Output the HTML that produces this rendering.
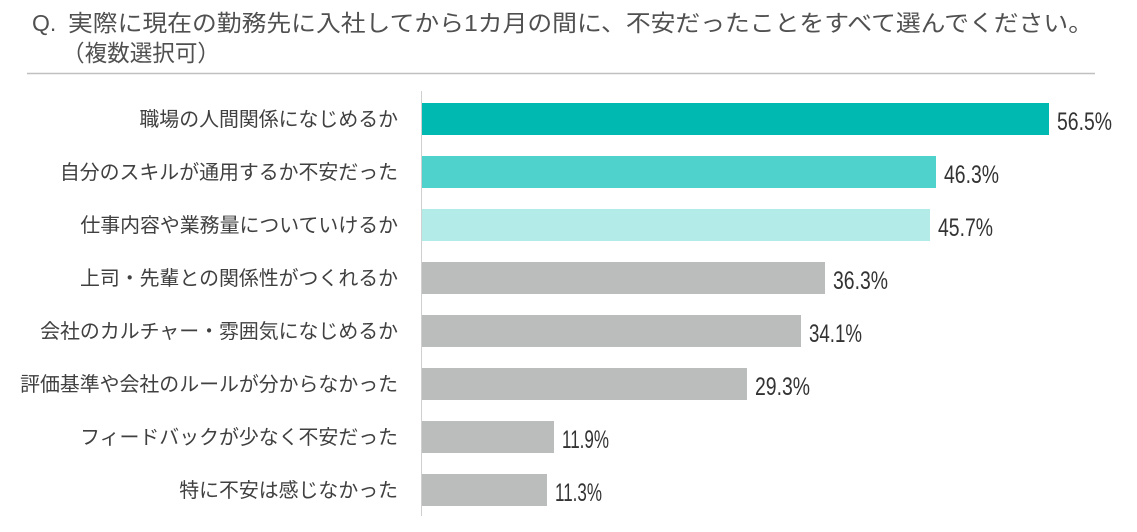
<!DOCTYPE html>
<html><head><meta charset="utf-8"><style>
html,body{margin:0;padding:0;background:#fff;}
svg{display:block;}
text{font-family:"Liberation Sans","Noto Sans CJK JP",sans-serif;}
</style></head><body>
<svg width="1137" height="532" viewBox="0 0 1137 532" xmlns="http://www.w3.org/2000/svg">
<text x="32" y="31" font-size="23" fill="#505050">Q.</text>
<text x="68" y="31" font-size="23" fill="#505050" textLength="1025" lengthAdjust="spacingAndGlyphs">実際に現在の勤務先に入社してから1カ月の間に、不安だったことをすべて選んでください。</text>
<text x="62" y="61" font-size="23" fill="#505050" textLength="158" lengthAdjust="spacingAndGlyphs">（複数選択可）</text>
<line x1="27" y1="73.5" x2="1095" y2="73.5" stroke="#c0c0c0" stroke-width="1.5"/>
<line x1="421.5" y1="91" x2="421.5" y2="516" stroke="#d0d0d0" stroke-width="1"/>
<g font-size="19.9" fill="#404040" text-anchor="end">
<text x="398" y="126">職場の人間関係になじめるか</text>
<text x="398" y="179">自分のスキルが通用するか不安だった</text>
<text x="398" y="232">仕事内容や業務量についていけるか</text>
<text x="398" y="285">上司・先輩との関係性がつくれるか</text>
<text x="398" y="338">会社のカルチャー・雰囲気になじめるか</text>
<text x="398" y="391">評価基準や会社のルールが分からなかった</text>
<text x="398" y="444">フィードバックが少なく不安だった</text>
<text x="398" y="497">特に不安は感じなかった</text>
</g>
<rect x="422" y="103" width="627" height="32" fill="#00bab2"/>
<rect x="422" y="156" width="514" height="32" fill="#4fd1cc"/>
<rect x="422" y="209" width="508" height="32" fill="#b2ebe8"/>
<rect x="422" y="262" width="403" height="32" fill="#bbbcbc"/>
<rect x="422" y="315" width="379" height="32" fill="#bbbcbc"/>
<rect x="422" y="368" width="325" height="32" fill="#bbbcbc"/>
<rect x="422" y="421" width="132" height="32" fill="#bbbcbc"/>
<rect x="422" y="474" width="125" height="32" fill="#bbbcbc"/>
<g font-size="25" fill="#333">
<text x="1057" y="130" textLength="55" lengthAdjust="spacingAndGlyphs">56.5%</text>
<text x="944" y="183" textLength="55" lengthAdjust="spacingAndGlyphs">46.3%</text>
<text x="938" y="236" textLength="55" lengthAdjust="spacingAndGlyphs">45.7%</text>
<text x="833" y="289" textLength="55" lengthAdjust="spacingAndGlyphs">36.3%</text>
<text x="809" y="342" textLength="53" lengthAdjust="spacingAndGlyphs">34.1%</text>
<text x="755" y="395" textLength="55" lengthAdjust="spacingAndGlyphs">29.3%</text>
<text x="562" y="448" textLength="47" lengthAdjust="spacingAndGlyphs">11.9%</text>
<text x="555" y="501" textLength="47" lengthAdjust="spacingAndGlyphs">11.3%</text>
</g>
</svg>
</body></html>
